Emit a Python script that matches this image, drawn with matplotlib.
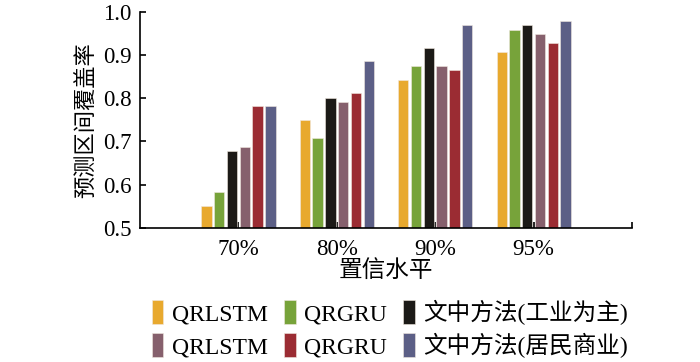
import numpy as np
import matplotlib
matplotlib.use('Agg')
import matplotlib.pyplot as plt

plt.rcParams['font.family'] = ['Liberation Serif', 'Noto Sans CJK SC']

levels = ['70%', '80%', '90%', '95%']

# bar order inside a group: yellow, green, black, mauve, red, blue
qrlstm_ind = [0.552, 0.750, 0.843, 0.906]
qrgru_ind = [0.583, 0.708, 0.875, 0.958]
ours_ind = [0.677, 0.801, 0.917, 0.968]
qrlstm_res = [0.688, 0.792, 0.875, 0.948]
qrgru_res = [0.782, 0.812, 0.864, 0.927]
ours_res = [0.782, 0.885, 0.968, 0.979]

bar_series = [
    ('QRLSTM', qrlstm_ind, '#E8A92E'),
    ('QRGRU', qrgru_ind, '#77A33A'),
    ('文中方法(工业为主)', ours_ind, '#1C1A17'),
    ('QRLSTM', qrlstm_res, '#86606D'),
    ('QRGRU', qrgru_res, '#9B2C33'),
    ('文中方法(居民商业)', ours_res, '#5C5F86'),
]

fig = plt.figure(figsize=(7, 3.62), dpi=100)
ax = fig.add_axes([0.2, 0.37, 0.703, 0.598])

x = np.arange(1, len(levels) + 1)
step = 0.13
handles = []
for i, (name, vals, col) in enumerate(bar_series):
    b = ax.bar(x + (i - 2.5) * step, np.array(vals) - 0.5, bottom=0.5, width=0.105,
               color=col, edgecolor='#f0e8e0', linewidth=0.4, label=name, zorder=2)
    handles.append(b)

ax.set_xlim(0, 5)
ax.set_ylim(0.5, 1.0)
ax.set_yticks([0.5, 0.6, 0.7, 0.8, 0.9, 1.0])
ax.set_yticklabels(['0.5', '0.6', '0.7', '0.8', '0.9', '1.0'])
ax.set_xticks([1, 2, 3, 4, 5])
ax.set_xticklabels(levels + [''])
ax.tick_params(axis='both', direction='in', length=4, width=1.2, labelsize=16.5)
ax.tick_params(axis='y', pad=6)
ax.tick_params(axis='x', pad=8)
ax.spines['top'].set_visible(False)
ax.spines['right'].set_visible(False)
ax.spines['left'].set_linewidth(1.2)
ax.spines['bottom'].set_linewidth(1.2)

ax.set_ylabel('预测区间覆盖率', fontsize=16, labelpad=4)
ax.set_xlabel('置信水平', fontsize=17, labelpad=0)

# legend fills column-wise, so interleave rows
order = [0, 3, 1, 4, 2, 5]
fig.legend([handles[i] for i in order], [bar_series[i][0] for i in order],
           ncol=3, loc='center', bbox_to_anchor=(0.557, 0.091), frameon=False,
           fontsize=17, handlelength=0.5, handleheight=1.2, handletextpad=0.35,
           columnspacing=0.7, labelspacing=0.34, borderpad=0)

fig.savefig('out.png', dpi=100)
